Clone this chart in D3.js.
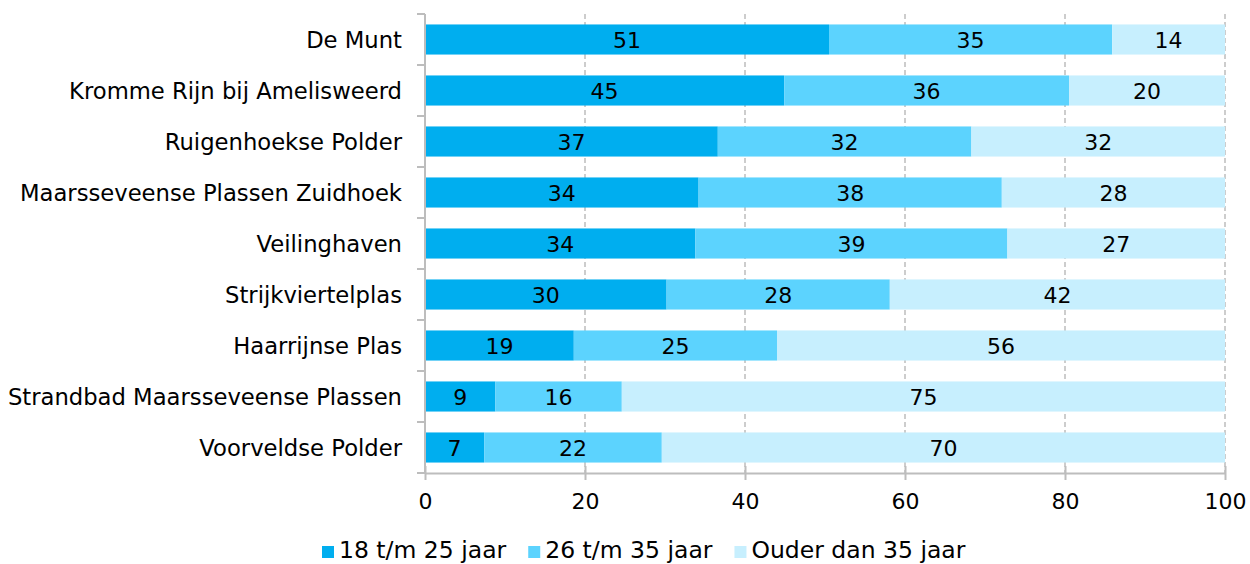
<!DOCTYPE html>
<html>
<head>
<meta charset="utf-8">
<script src="https://cdn.jsdelivr.net/npm/d3@7"></script>
<style>
  body { margin: 0; background: #fff; }
  text { font-family: "DejaVu Sans", sans-serif; fill: #000; }
</style>
</head>
<body>
<div id="chart"></div>
<script>
var locations = ["De Munt", "Kromme Rijn bij Amelisweerd", "Ruigenhoekse Polder",
    "Maarsseveense Plassen Zuidhoek", "Veilinghaven", "Strijkviertelplas",
    "Haarrijnse Plas", "Strandbad Maarsseveense Plassen", "Voorveldse Polder"];
var seriesNames = ["18 t/m 25 jaar", "26 t/m 35 jaar", "Ouder dan 35 jaar"];
var age18to25 = [50.5, 44.9, 36.6, 34.2, 33.8, 30.2, 18.6, 8.8, 7.4];
var age26to35 = [35.4, 35.6, 31.7, 37.9, 39.0, 27.9, 25.4, 15.8, 22.2];
var age35plus = [14.1, 19.5, 31.7, 27.9, 27.2, 41.9, 56.0, 75.4, 70.4];
var xTicks = [0, 20, 40, 60, 80, 100];
var colors = ["#00aeef", "#5cd3fe", "#c7effe"];

var W = 1250, H = 564;
var margin = {top: 14, right: 25, bottom: 91, left: 425},
    width = W - margin.left - margin.right,
    height = H - margin.top - margin.bottom;

var rows = locations.map(function (name, i) {
    return {name: name, a: age18to25[i], b: age26to35[i], c: age35plus[i]};
});

var stack = d3.stack().keys(["a", "b", "c"]);
var series = stack(rows);

var x = d3.scaleLinear().domain([0, 100]).range([0, width]);
var y = d3.scaleBand().domain(locations).range([0, height]).paddingInner(0.41).paddingOuter(0.205);

var svg = d3.select("#chart").append("svg")
    .attr("width", W)
    .attr("height", H);

var g = svg.append("g")
    .attr("transform", "translate(" + margin.left + "," + margin.top + ")");

// dashed grid
g.selectAll(".grid")
    .data(xTicks.slice(1))
    .enter().append("line")
    .attr("class", "grid")
    .attr("x1", function (d) { return x(d); })
    .attr("x2", function (d) { return x(d); })
    .attr("y1", 0)
    .attr("y2", height)
    .attr("stroke", "#bdbdbd")
    .attr("stroke-width", 1.5)
    .attr("stroke-dasharray", "5,3");

var layer = g.selectAll(".layer")
    .data(series)
    .enter().append("g")
    .attr("class", "layer")
    .attr("fill", function (d, i) { return colors[i]; });

layer.selectAll("rect")
    .data(function (d) { return d; })
    .enter().append("rect")
    .attr("x", function (d) { return x(d[0]); })
    .attr("y", function (d) { return y(d.data.name); })
    .attr("width", function (d) { return x(d[1]) - x(d[0]); })
    .attr("height", y.bandwidth());

layer.selectAll(".val")
    .data(function (d) { return d; })
    .enter().append("text")
    .attr("class", "val")
    .attr("x", function (d) { return (x(d[0]) + x(d[1])) / 2; })
    .attr("y", function (d) { return y(d.data.name) + y.bandwidth() / 2; })
    .attr("dy", "0.37em")
    .attr("text-anchor", "middle")
    .style("font-size", "22px")
    .text(function (d) { return Math.round(d[1] - d[0]); });

// y axis
var yAxis = g.append("g");
yAxis.append("line")
    .attr("x1", 0).attr("x2", 0)
    .attr("y1", 0).attr("y2", height)
    .attr("stroke", "#bdbdbd").attr("stroke-width", 2);
var step = y.step();
yAxis.selectAll(".ytick")
    .data(d3.range(locations.length + 1))
    .enter().append("line")
    .attr("x1", -8).attr("x2", 0)
    .attr("y1", function (i) { return i * step; })
    .attr("y2", function (i) { return i * step; })
    .attr("stroke", "#bdbdbd").attr("stroke-width", 2);
yAxis.selectAll(".ylab")
    .data(locations)
    .enter().append("text")
    .attr("x", -23)
    .attr("y", function (d) { return y(d) + y.bandwidth() / 2; })
    .attr("dy", "0.37em")
    .attr("text-anchor", "end")
    .style("font-size", "22.7px")
    .text(function (d) { return d; });

// x axis
var xAxis = g.append("g")
    .attr("transform", "translate(0," + height + ")")
    .call(d3.axisBottom(x).tickValues(xTicks).tickSize(7).tickSizeOuter(0));
xAxis.select(".domain").attr("stroke", "#bdbdbd").attr("stroke-width", 2);
xAxis.selectAll(".tick line").attr("stroke", "#bdbdbd").attr("stroke-width", 2).attr("y1", -7);
xAxis.selectAll(".tick text")
    .attr("y", 20)
    .attr("fill", "#000")
    .style("font-family", "DejaVu Sans, sans-serif")
    .style("font-size", "22px");

// legend
var legend = svg.append("g").attr("transform", "translate(322,558)");
var lx = 0;
seriesNames.forEach(function (name, i) {
    var item = legend.append("g").attr("transform", "translate(" + lx + ",0)");
    item.append("rect")
        .attr("x", 0).attr("y", -12)
        .attr("width", 12).attr("height", 12)
        .attr("fill", colors[i]);
    var t = item.append("text")
        .attr("x", 17).attr("y", 0)
        .style("font-size", "23.5px")
        .text(name);
    lx += 17 + t.node().getComputedTextLength() + 22;
});
</script>
</body>
</html>
